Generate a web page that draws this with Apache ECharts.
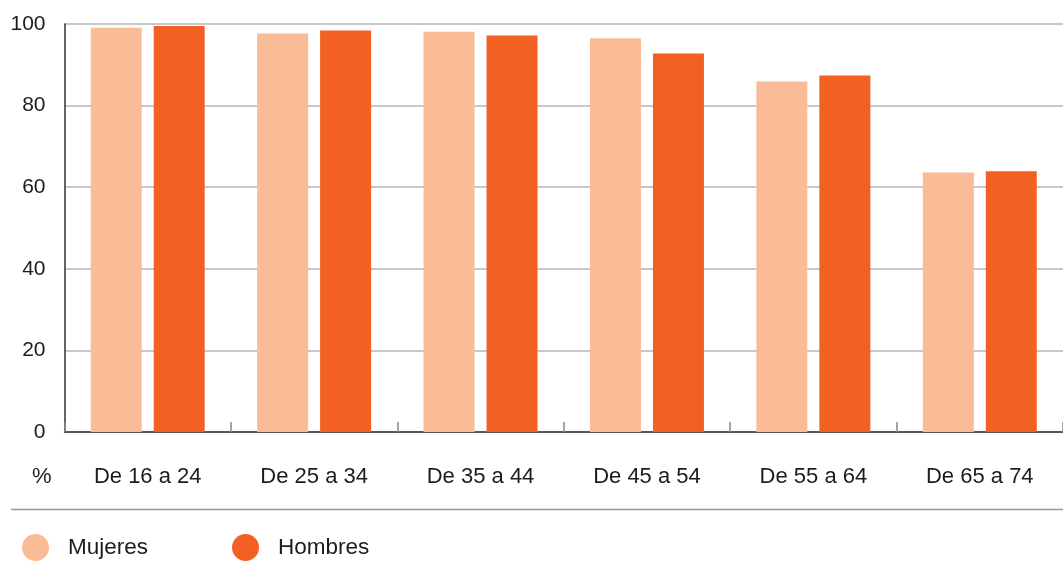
<!DOCTYPE html>
<html lang="es">
<head>
  <meta charset="UTF-8">
  <title>Mujeres y Hombres por edad</title>
  <script src="https://cdn.jsdelivr.net/npm/echarts@6/dist/echarts.min.js"></script>
  <style>
    html, body { margin: 0; padding: 0; background: #fff; }
    #chart { width: 1063px; height: 571px; }
  </style>
</head>
<body>
  <div id="chart"></div>
<script>
  // datos
  const categorias = ['De 16 a 24', 'De 25 a 34', 'De 35 a 44', 'De 45 a 54', 'De 55 a 64', 'De 65 a 74']
  const mujeres = [99.1, 97.7, 98.1, 96.5, 85.9, 63.6]
  const hombres = [99.5, 98.4, 97.2, 92.8, 87.4, 63.9]
  const ticksY = [0, 20, 40, 60, 80, 100]

  const texto = '#1f1b1c'
  const fuente = 'Liberation Sans, Arial, Helvetica, sans-serif'

  let chart = echarts.init(document.getElementById('chart'))
  let option = {
    animation: false,
    textStyle: { fontFamily: fuente },
    grid: { left: 64.5, top: 24, right: -4, height: 408, containLabel: false },
    legend: {
      left: 17,
      top: 529,
      icon: 'circle',
      itemWidth: 27,
      itemHeight: 27,
      itemGap: 84,
      textStyle: { color: texto, fontSize: 22.5, fontFamily: fuente, padding: [0, 0, 0, 14] },
      data: ['Mujeres', 'Hombres']
    },
    xAxis: {
      type: 'category',
      data: categorias,
      axisLine: { lineStyle: { color: '#333', width: 1.5 } },
      axisTick: { show: true, inside: true, length: 10, interval: 0, lineStyle: { color: '#888', width: 1.5 } },
      axisLabel: { color: texto, fontSize: 22, margin: 34, fontFamily: fuente }
    },
    yAxis: {
      type: 'value',
      min: ticksY[0],
      max: ticksY[ticksY.length - 1],
      interval: 20,
      axisLine: { show: true, lineStyle: { color: '#333', width: 1.5 } },
      axisTick: { show: false },
      axisLabel: { color: texto, fontSize: 21, margin: 19, fontFamily: fuente },
      splitLine: { lineStyle: { color: '#c8c8c8', width: 2 } }
    },
    series: [
      {
        name: 'Mujeres',
        type: 'bar',
        data: mujeres,
        barWidth: 51,
        barGap: '23.5%',
        itemStyle: { color: '#f9bc96' }
      },
      {
        name: 'Hombres',
        type: 'bar',
        data: hombres,
        barWidth: 51,
        itemStyle: { color: '#f26023' }
      }
    ],
    graphic: [
      {
        type: 'text',
        left: 32,
        top: 466,
        style: { text: '%', fill: texto, font: '22px ' + fuente }
      },
      {
        type: 'line',
        shape: { x1: 11, y1: 509.5, x2: 1063, y2: 509.5 },
        style: { stroke: '#999', lineWidth: 1.5 }
      }
    ]
  }
  chart.setOption(option)
</script>
</body>
</html>
